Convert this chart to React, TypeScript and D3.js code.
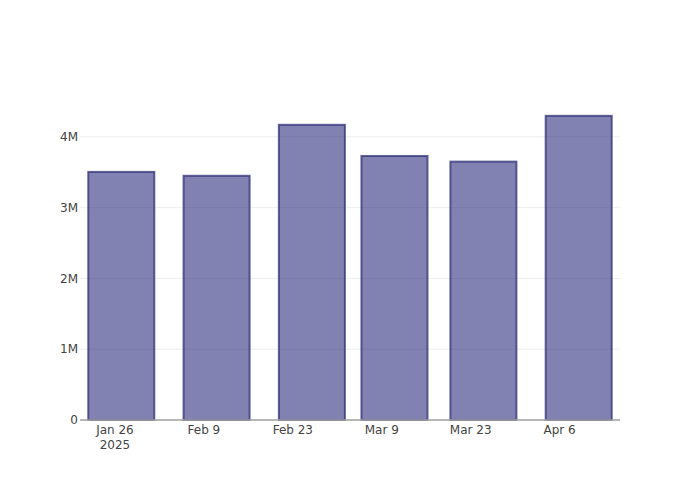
import { useEffect, useRef } from "react";
import * as d3 from "d3";

// weekly-ish totals
const dates = ["2025-01-27", "2025-02-11", "2025-02-26", "2025-03-11", "2025-03-25", "2025-04-09"];
const values = [3505000, 3450000, 4170000, 3730000, 3650000, 4297000];
const xTicks = ["2025-01-26", "2025-02-09", "2025-02-23", "2025-03-09", "2025-03-23", "2025-04-06"];
const yTicks = [0, 1000000, 2000000, 3000000, 4000000];
const yTickLabels = ["0", "1M", "2M", "3M", "4M"];

const DAY = 86400000;

export default function App() {
  const svgRef = useRef<SVGSVGElement>(null);

  useEffect(() => {
    if (!svgRef.current) return;
    const svg = d3.select(svgRef.current);
    svg.selectAll("*").remove();

    const width = 700;
    const height = 500;
    const margin = { top: 100, right: 80, bottom: 80, left: 80 };
    const font = "'DejaVu Sans', verdana, arial, sans-serif";

    const parse = (s: string) => new Date(s + "T00:00:00Z");
    const times = dates.map(parse);

    // bar width = 0.8 of the smallest gap between bars
    let minGap = Infinity;
    for (let i = 1; i < times.length; i++) {
      minGap = Math.min(minGap, +times[i] - +times[i - 1]);
    }
    const barW = minGap * 0.8;
    const pad = 1.3 * DAY;

    const x = d3
      .scaleUtc()
      .domain([
        new Date(+times[0] - barW / 2 - pad),
        new Date(+times[times.length - 1] + barW / 2 + pad),
      ])
      .range([margin.left, width - margin.right]);

    const y = d3
      .scaleLinear()
      .domain([0, d3.max(values)! * 1.052])
      .range([height - margin.bottom, margin.top]);

    svg.append("rect").attr("width", width).attr("height", height).attr("fill", "white");

    // grid
    yTicks.slice(1).forEach((t) => {
      svg
        .append("line")
        .attr("x1", margin.left)
        .attr("x2", width - margin.right)
        .attr("y1", y(t))
        .attr("y2", y(t))
        .attr("stroke", "#eeeeee")
        .attr("stroke-width", 1);
    });

    // bars
    times.forEach((t, i) => {
      const x0 = x(new Date(+t - barW / 2));
      const x1 = x(new Date(+t + barW / 2));
      svg
        .append("rect")
        .attr("x", x0)
        .attr("y", y(values[i]))
        .attr("width", x1 - x0)
        .attr("height", y(0) - y(values[i]))
        .attr("fill", "#2e2e7e")
        .attr("fill-opacity", 0.6)
        .attr("stroke", "#28286e")
        .attr("stroke-opacity", 0.7)
        .attr("stroke-width", 2);
    });

    // x axis line
    svg
      .append("line")
      .attr("x1", margin.left)
      .attr("x2", width - margin.right)
      .attr("y1", y(0))
      .attr("y2", y(0))
      .attr("stroke", "#a0a0a0")
      .attr("stroke-width", 1.5);

    // y labels
    yTicks.forEach((t, i) => {
      svg
        .append("text")
        .attr("x", margin.left - 2)
        .attr("y", y(t))
        .attr("dy", "0.35em")
        .attr("text-anchor", "end")
        .attr("font-family", font)
        .attr("font-size", 12)
        .attr("fill", "#444")
        .text(yTickLabels[i]);
    });

    // x labels
    const fmt = d3.utcFormat("%b %-d");
    xTicks.forEach((s, i) => {
      const d = parse(s);
      svg
        .append("text")
        .attr("x", x(d))
        .attr("y", y(0) + 13.5)
        .attr("text-anchor", "middle")
        .attr("font-family", font)
        .attr("font-size", 12)
        .attr("fill", "#444")
        .text(fmt(d));
      if (i === 0) {
        svg
          .append("text")
          .attr("x", x(d))
          .attr("y", y(0) + 28.5)
          .attr("text-anchor", "middle")
          .attr("font-family", font)
          .attr("font-size", 12)
          .attr("fill", "#444")
          .text(d3.utcFormat("%Y")(d));
      }
    });
  }, []);

  return (
    <div style={{ margin: -8 }}>
      <svg ref={svgRef} width={700} height={500} style={{ display: "block" }} />
    </div>
  );
}
